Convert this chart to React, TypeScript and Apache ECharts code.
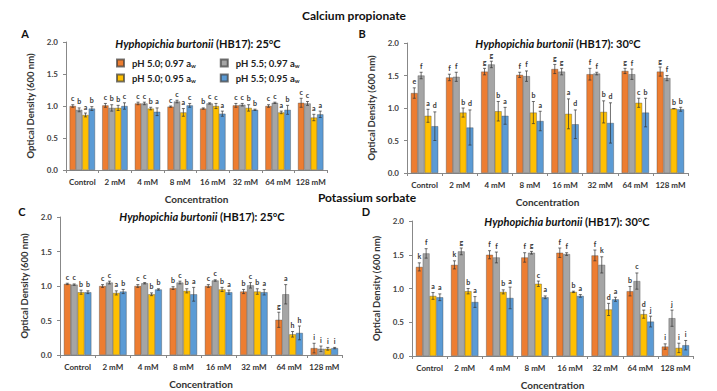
import React, { useEffect, useRef } from "react";
import * as echarts from "echarts";

const categories = ["Control", "2 mM", "4 mM", "8 mM", "16 mM", "32 mM", "64 mM", "128 mM"];
const seriesNames = ["pH 5.0; 0.97 aw", "pH 5.5; 0.97 aw", "pH 5.0; 0.95 aw", "pH 5.5; 0.95 aw"];
const colors = ["#ED7D31", "#A5A5A5", "#FFC000", "#5B9BD5"];
const yTickLabels = ["0.0", "0.5", "1.0", "1.5", "2.0"];

// Panel A: Calcium propionate, 25°C
const aOrange = [1.0, 1.01, 1.04, 0.99, 0.96, 1.01, 1.0, 1.05];
const aGray = [0.94, 0.97, 1.04, 1.07, 1.04, 1.02, 1.05, 1.04];
const aYellow = [0.86, 0.97, 0.96, 0.9, 1.0, 0.97, 0.9, 0.82];
const aBlue = [0.96, 1.0, 0.91, 1.01, 0.88, 0.94, 0.94, 0.87];
const aOrangeErr = [0.02, 0.03, 0.02, 0.01, 0.01, 0.03, 0.02, 0.07];
const aGrayErr = [0.03, 0.05, 0.02, 0.02, 0.01, 0.02, 0.01, 0.03];
const aYellowErr = [0.03, 0.04, 0.02, 0.06, 0.04, 0.05, 0.02, 0.05];
const aBlueErr = [0.03, 0.05, 0.06, 0.03, 0.04, 0.01, 0.07, 0.05];
const aOrangeLet = ["c", "c", "c", "c", "b", "c", "c", "c"];
const aGrayLet = ["b", "b", "c", "c", "c", "c", "c", "c"];
const aYellowLet = ["a", "b", "b", "a", "c", "b", "a", "a"];
const aBlueLet = ["b", "c", "a", "c", "a", "b", "b", "a"];

// Panel B: Calcium propionate, 30°C
const bOrange = [1.23, 1.47, 1.56, 1.51, 1.6, 1.52, 1.57, 1.56];
const bGray = [1.5, 1.48, 1.67, 1.49, 1.56, 1.53, 1.52, 1.46];
const bYellow = [0.88, 0.93, 0.95, 0.93, 0.91, 0.94, 1.08, 0.99];
const bBlue = [0.72, 0.7, 0.88, 0.8, 0.75, 0.77, 0.93, 0.98];
const bOrangeErr = [0.08, 0.05, 0.05, 0.04, 0.07, 0.09, 0.04, 0.07];
const bGrayErr = [0.05, 0.07, 0.05, 0.08, 0.05, 0.02, 0.08, 0.04];
const bYellowErr = [0.1, 0.07, 0.15, 0.17, 0.23, 0.17, 0.07, 0.0];
const bBlueErr = [0.22, 0.27, 0.13, 0.15, 0.22, 0.31, 0.22, 0.03];
const bOrangeLet = ["e", "f", "g", "f", "g", "f", "g", "g"];
const bGrayLet = ["f", "f", "g", "f", "g", "f", "f", "f"];
const bYellowLet = ["a", "b", "b", "b", "a", "b", "c", "b"];
const bBlueLet = ["d", "d", "a", "a", "d", "d", "b", "b"];

// Panel C: Potassium sorbate, 25°C
const cOrange = [1.03, 1.0, 1.0, 0.97, 1.0, 0.92, 0.51, 0.1];
const cGray = [1.02, 1.05, 1.04, 1.05, 1.08, 1.01, 0.88, 0.09];
const cYellow = [0.91, 0.9, 0.88, 0.93, 0.95, 0.92, 0.3, 0.09];
const cBlue = [0.91, 0.92, 0.95, 0.88, 0.91, 0.91, 0.32, 0.1];
const cOrangeErr = [0.01, 0.02, 0.02, 0.02, 0.02, 0.03, 0.11, 0.07];
const cGrayErr = [0.01, 0.02, 0.01, 0.02, 0.01, 0.04, 0.14, 0.04];
const cYellowErr = [0.03, 0.03, 0.02, 0.03, 0.03, 0.04, 0.04, 0.02];
const cBlueErr = [0.02, 0.03, 0.01, 0.1, 0.03, 0.04, 0.1, 0.01];
const cOrangeLet = ["c", "c", "c", "b", "c", "b", "g", "i"];
const cGrayLet = ["c", "c", "c", "c", "c", "c", "a", "i"];
const cYellowLet = ["b", "a", "b", "b", "b", "b", "h", "i"];
const cBlueLet = ["b", "b", "b", "a", "a", "a", "h", "i"];

// Panel D: Potassium sorbate, 30°C
const dOrange = [1.32, 1.35, 1.5, 1.46, 1.53, 1.49, 0.96, 0.14];
const dGray = [1.52, 1.55, 1.46, 1.53, 1.51, 1.35, 1.11, 0.56];
const dYellow = [0.89, 0.96, 0.95, 1.07, 0.95, 0.69, 0.62, 0.12];
const dBlue = [0.87, 0.8, 0.86, 0.87, 0.89, 0.84, 0.51, 0.16];
const dOrangeErr = [0.06, 0.06, 0.06, 0.07, 0.07, 0.08, 0.07, 0.04];
const dGrayErr = [0.07, 0.05, 0.08, 0.02, 0.02, 0.12, 0.12, 0.12];
const dYellowErr = [0.05, 0.04, 0.03, 0.04, 0.01, 0.09, 0.06, 0.07];
const dBlueErr = [0.05, 0.08, 0.16, 0.02, 0.02, 0.03, 0.08, 0.07];
const dOrangeLet = ["k", "k", "f", "f", "f", "f", "b", "i"];
const dGrayLet = ["f", "g", "f", "g", "f", "k", "c", "j"];
const dYellowLet = ["a", "b", "b", "c", "b", "d", "d", "i"];
const dBlueLet = ["a", "a", "a", "a", "a", "a", "j", "i"];

const panels = [
  {
    means: [aOrange, aGray, aYellow, aBlue],
    errs: [aOrangeErr, aGrayErr, aYellowErr, aBlueErr],
    lets: [aOrangeLet, aGrayLet, aYellowLet, aBlueLet],
    grid: { left: 66, right: 390, top: 42, bottom: 221 },
    title: "25°C", tx: 198, ty: 43, letter: "A", lx: 25, ly: 33,
  },
  {
    means: [bOrange, bGray, bYellow, bBlue],
    errs: [bOrangeErr, bGrayErr, bYellowErr, bBlueErr],
    lets: [bOrangeLet, bGrayLet, bYellowLet, bBlueLet],
    grid: { left: 407, right: 29, top: 43, bottom: 218 },
    title: "30°C", tx: 558, ty: 43, letter: "B", lx: 362, ly: 33,
  },
  {
    means: [cOrange, cGray, cYellow, cBlue],
    errs: [cOrangeErr, cGrayErr, cYellowErr, cBlueErr],
    lets: [cOrangeLet, cGrayLet, cYellowLet, cBlueLet],
    grid: { left: 60, right: 375, top: 217, bottom: 36 },
    title: "25°C", tx: 202, ty: 216, letter: "C", lx: 22, ly: 211,
  },
  {
    means: [dOrange, dGray, dYellow, dBlue],
    errs: [dOrangeErr, dGrayErr, dYellowErr, dBlueErr],
    lets: [dOrangeLet, dGrayLet, dYellowLet, dBlueLet],
    grid: { left: 412, right: 24, top: 221, bottom: 32 },
    title: "30°C", tx: 567, ty: 221, letter: "D", lx: 366, ly: 211,
  },
];

const GAP = 0.22;
const FONT = "Lato";

export default function App() {
  const ref = useRef<HTMLDivElement>(null);
  useEffect(() => {
    document.body.style.margin = "0";
    if (!ref.current) return;
    const chart = echarts.init(ref.current, null, { renderer: "svg" });

    const grids: any[] = [];
    const xAxes: any[] = [];
    const yAxes: any[] = [];
    const series: any[] = [];
    const graphics: any[] = [];

    panels.forEach((p, pi) => {
      grids.push(p.grid);
      xAxes.push({
        type: "category",
        gridIndex: pi,
        data: categories,
        name: "Concentration",
        nameLocation: "middle",
        nameGap: 24,
        nameTextStyle: { fontFamily: FONT, fontSize: 10, fontWeight: "bold", color: "#333" },
        axisLine: { lineStyle: { color: "#888", width: 1 } },
        axisTick: { show: true, length: 3, lineStyle: { color: "#888" } },
        axisLabel: { fontFamily: FONT, fontSize: 8, fontWeight: "bold", color: "#333", margin: 8, interval: 0 },
      });
      yAxes.push({
        type: "value",
        gridIndex: pi,
        min: 0,
        max: 2,
        interval: 0.5,
        name: "Optical Density (600 nm)",
        nameLocation: "middle",
        nameGap: 31,
        nameTextStyle: { fontFamily: FONT, fontSize: 9.5, fontWeight: "bold", color: "#333" },
        axisLine: { show: true, lineStyle: { color: "#888", width: 1 } },
        axisTick: { show: true, length: 3, lineStyle: { color: "#888" } },
        splitLine: { show: false },
        axisLabel: {
          fontFamily: FONT, fontSize: 8, fontWeight: "bold", color: "#444", margin: 8,
          formatter: (v: number) => yTickLabels[Math.round(v / 0.5)] ?? "",
        },
      });
      for (let s = 0; s < 4; s++) {
        series.push({
          type: "bar",
          name: seriesNames[s],
          xAxisIndex: pi,
          yAxisIndex: pi,
          data: p.means[s],
          barGap: "0%",
          barCategoryGap: GAP * 100 + "%",
          itemStyle: { color: colors[s], borderColor: "rgba(60,60,60,0.7)", borderWidth: 0.5 },
        });
      }
      for (let s = 0; s < 4; s++) {
        const lets = p.lets[s];
        series.push({
          type: "custom",
          xAxisIndex: pi,
          yAxisIndex: pi,
          z: 5,
          silent: true,
          data: p.means[s].map((m, i) => [i, m, p.errs[s][i]]),
          renderItem: (params: any, api: any) => {
            const ci = api.value(0);
            const m = api.value(1);
            const e = api.value(2);
            const c = api.coord([ci, m]);
            const catW = api.size([1, 0])[0];
            const groupW = catW * (1 - GAP);
            const bw = groupW / 4;
            const x = c[0] - groupW / 2 + bw * (s + 0.5);
            const yTop = api.coord([ci, m + e])[1];
            const yBot = api.coord([ci, Math.max(m - e, 0)])[1];
            const cap = 1.5;
            const ls = { stroke: "#333", lineWidth: 0.7 };
            return {
              type: "group",
              children: [
                { type: "line", shape: { x1: x, y1: yTop, x2: x, y2: yBot }, style: ls },
                { type: "line", shape: { x1: x - cap, y1: yTop, x2: x + cap, y2: yTop }, style: ls },
                { type: "line", shape: { x1: x - cap, y1: yBot, x2: x + cap, y2: yBot }, style: ls },
                {
                  type: "text",
                  x: x,
                  y: yTop - 3,
                  style: {
                    text: lets[params.dataIndex],
                    fill: "#333",
                    fontFamily: FONT,
                    fontSize: 7,
                    fontWeight: "bold",
                    align: "center",
                    verticalAlign: "bottom",
                  },
                },
              ],
            };
          },
        });
      }
      graphics.push({
        type: "text",
        x: p.tx,
        y: p.ty,
        style: {
          text: "{i|Hyphopichia burtonii}{n| (HB17): " + p.title + "}",
          align: "center",
          verticalAlign: "middle",
          rich: {
            i: { fontFamily: FONT, fontSize: 11, fontWeight: "bold", fontStyle: "italic", fill: "#111" },
            n: { fontFamily: FONT, fontSize: 11, fontWeight: "bold", fill: "#111" },
          },
        },
      });
      graphics.push({
        type: "text",
        x: p.lx,
        y: p.ly,
        style: {
          text: p.letter, fontFamily: FONT, fontSize: 11, fontWeight: "bold", fill: "#111",
          align: "center", verticalAlign: "middle",
        },
      });
    });

    graphics.push({
      type: "text", x: 354, y: 15,
      style: { text: "Calcium propionate", fontFamily: FONT, fontSize: 12, fontWeight: "bold", fill: "#111", align: "center", verticalAlign: "middle" },
    });
    graphics.push({
      type: "text", x: 367, y: 197,
      style: { text: "Potassium sorbate", fontFamily: FONT, fontSize: 12, fontWeight: "bold", fill: "#111", align: "center", verticalAlign: "middle" },
    });

    const legendText = {
      fontFamily: FONT,
      fontSize: 9.5,
      fontWeight: "bold",
      color: "#222",
      padding: [0, 0, 0, 3],
      rich: {
        t: { fontFamily: FONT, fontSize: 9.5, fontWeight: "bold", color: "#222" },
        s: { fontFamily: FONT, fontSize: 6, fontWeight: "bold", color: "#222", padding: [5, 0, 0, 0] },
      },
    };
    const fmt = (name: string) => "{t|" + name.slice(0, -1) + "}{s|w}";

    chart.setOption({
      animation: false,
      grid: grids,
      xAxis: xAxes,
      yAxis: yAxes,
      series,
      graphic: graphics,
      legend: [
        {
          data: [seriesNames[0], seriesNames[1]],
          left: 111, top: 53, itemWidth: 7, itemHeight: 7, itemGap: 24, icon: "rect",
          formatter: fmt, textStyle: legendText, selectedMode: false,
        },
        {
          data: [seriesNames[2], seriesNames[3]],
          left: 111, top: 68, itemWidth: 7, itemHeight: 7, itemGap: 24, icon: "rect",
          formatter: fmt, textStyle: legendText, selectedMode: false,
        },
      ],
    });
    return () => chart.dispose();
  }, []);
  return <div ref={ref} style={{ width: 717, height: 391 }} />;
}
